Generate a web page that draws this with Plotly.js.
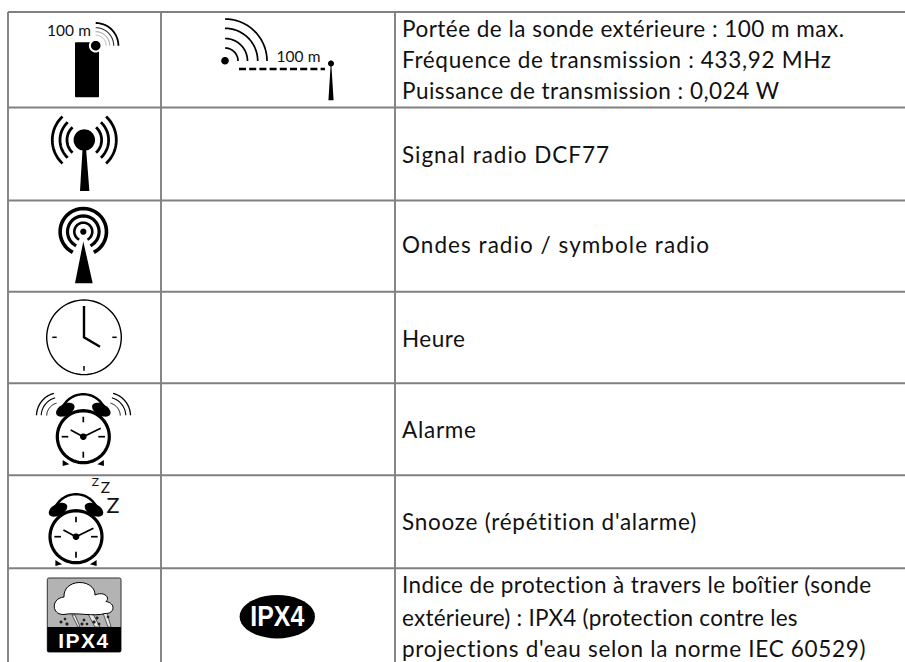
<!DOCTYPE html>
<html><head><meta charset="utf-8">
<script src="https://cdn.plot.ly/plotly-3.0.1.min.js"></script>
<style>html,body{margin:0;padding:0;background:#fff}#c{width:905px;height:662px}</style>
</head><body><div id="c"></div>
<script>
// table structure
const colLines = [8, 161, 395];
const rowLines = [12, 107.5, 200.5, 291.7, 383.3, 475.2, 568.3];
// description text
const descLines = [
  "Portée de la sonde extérieure : 100 m max.",
  "Fréquence de transmission : 433,92 MHz",
  "Puissance de transmission : 0,024 W",
  "Signal radio DCF77",
  "Ondes radio / symbole radio",
  "Heure",
  "Alarme",
  "Snooze (répétition d'alarme)",
  "Indice de protection à travers le boîtier (sonde",
  "extérieure) : IPX4 (protection contre les",
  "projections d'eau selon la norme IEC 60529)"
];
const descBase = [37, 68.3, 99.3, 163.3, 253.3, 346.7, 438.3, 530, 593.3, 626, 656.7];
const descWidth = [442, 429, 377, 207, 307, 63, 74, 295, 470, 396, 464];
const descX = 402;
const baseShift = 5.7;

const K = "#000000", G = "#808080";
const shapes = [];
function P(path, opt) {
  opt = opt || {};
  shapes.push({type:"path", xref:"x", yref:"y", layer:"below", path,
    line:{color:opt.color||K, width:opt.w===undefined?0:opt.w},
    fillcolor:opt.fill||"rgba(0,0,0,0)"});
}
function arcPts(cx,cy,r,a0,a1,n){n=n||36;const o=[];for(let i=0;i<=n;i++){const a=(a0+(a1-a0)*i/n)*Math.PI/180;o.push([cx+r*Math.cos(a),cy+r*Math.sin(a)]);}return o;}
function poly(pts,close){return pts.map((p,i)=>(i?"L":"M")+p[0].toFixed(2)+" "+p[1].toFixed(2)).join(" ")+(close?" Z":"");}
function arc(cx,cy,r,a0,a1,w,color){P(poly(arcPts(cx,cy,r,a0,a1)),{w,color});}
function disc(cx,cy,r,fill){P(poly(arcPts(cx,cy,r,0,360,48),true),{fill:fill||K});}
function ring(cx,cy,r,w,color){P(poly(arcPts(cx,cy,r,0,360,72),true),{w,color:color||K});}
function seg(x0,y0,x1,y1,w){P(`M${x0} ${y0} L${x1} ${y1}`,{w});}
function ell(cx,cy,rx,ry,rot,fill){const t=rot*Math.PI/180,o=[];for(let i=0;i<40;i++){const a=i/40*2*Math.PI,x=rx*Math.cos(a),y=ry*Math.sin(a);o.push([cx+x*Math.cos(t)-y*Math.sin(t),cy+x*Math.sin(t)+y*Math.cos(t)]);}P(poly(o,true),{fill:fill||K});}

// grid
colLines.forEach(x=>shapes.push({type:"line",layer:"below",xref:"x",yref:"y",x0:x,x1:x,y0:rowLines[0],y1:662,line:{color:G,width:1.9}}));
rowLines.forEach(y=>shapes.push({type:"line",layer:"below",xref:"x",yref:"y",x0:colLines[0],x1:905,y0:y,y1:y,line:{color:G,width:1.9}}));

// icon 1: phone sensor
P("M76 42.3 L98 42.3 Q99 42.3 99 43.3 L99 96.3 Q99 97.3 98 97.3 L76 97.3 Q75 97.3 75 96.3 L75 43.3 Q75 42.3 76 42.3 Z",{fill:K});
disc(95.7,45.7,6.8,"#ffffff");
disc(95.7,45.7,4.8);
arc(95.7,45.7,22.7,-90,0,1.8);
arc(95.7,45.7,18,-90,0,1.1,"#333333");
arc(95.7,45.7,14,-90,0,0.8,"#777777");
arc(95.7,45.7,10.5,-90,0,0.7,"#999999");

// icon 2: range
disc(225,60.7,3.8);
[13,22.5,32.7,42].forEach(r=>arc(225,61,r,-90,0,1.7));
P("M239 69 L325 69",{w:2.3});
shapes[shapes.length-1].line.dash="7px,3.2px";
disc(331,63.5,3);
P("M330.6 65 L331.4 65 L333.6 100.3 L328.4 100.3 Z",{fill:K});

// icon 3: antenna DCF77
disc(84.3,140,10.7);
P("M82.6 148 L86 148 L89.4 191 L80 191 Z",{fill:K});
[17.3,24.3,32].forEach(r=>{arc(84.3,140,r,-47,47,2.8);arc(84.3,140,r,133,227,2.8);});

// icon 4: radio
disc(83.3,231.7,3.1);
[[9,2.6],[15.8,3.2],[23.2,3.6]].forEach(([r,w])=>arc(83.3,231.7,r,117,423,w));
P("M83.3 241.5 L92.7 283.3 L75 283.3 Z",{fill:K});

// icon 5: clock
ring(84,337.3,37.3,1.4);
P("M84 306 L84 337.3 L100 346.7",{w:2.4});
seg(112.3,337.3,116.7,337.3,1.5);seg(52.3,337.3,56.7,337.3,1.5);seg(84,366,84,370.7,1.5);

// icons 6/7: alarm clock
function alarm(cx,cy){
  ring(cx,cy,26,3.2);
  seg(cx,cy-20,cx,cy-14.4,1.7);seg(cx,cy+15,cx,cy+21,1.7);
  seg(cx+15,cy,cx+21.7,cy,1.7);seg(cx-21.6,cy,cx-15,cy,1.7);
  P(`M${cx-12.6} ${cy-6.7} L${cx} ${cy} L${cx+17.4} ${cy-8.4}`,{w:1.7});
  disc(cx,cy,3.3);
  arc(cx,cy-19.5,23,-152,-28,2.4);
  ell(cx-18,cy-27,10,5.8,-28);
  ell(cx+18,cy-27,10,5.8,28);
  P(`M${cx-20.6} ${cy+23.3} L${cx-20.6} ${cy+29.3} L${cx-14} ${cy+27.6} Z`,{fill:K});
  P(`M${cx+20.6} ${cy+23.3} L${cx+20.6} ${cy+29.3} L${cx+14} ${cy+27.6} Z`,{fill:K});
}
alarm(83.3,436.7);
[[23.5,1.3],[18.8,1.1],[13.3,1]].forEach(([r,w])=>{arc(60,416,r,182,255,w);arc(107,416,r,-75,-2,w);});
alarm(76,536.7);

// icon 8: IPX4 cloud
P("M49 578 L119.5 578 Q121 578 121 579.5 L121 650.5 Q121 652 119.5 652 L49 652 Q47.3 652 47.3 650.5 L47.3 579.5 Q47.3 578 49 578 Z",{fill:"#b3b3b3",w:1,color:"#333333"});
P("M47.3 627 L121 627 L121 650.5 Q121 652 119.5 652 L49 652 Q47.3 652 47.3 650.5 Z",{fill:K});
// rain
[[72,615,78,627,80,627,75,615],[88,614,95,627,100,627,93,614],[103,613,108,627,111,627,107,613]].forEach(q=>P(`M${q[0]} ${q[1]} L${q[2]} ${q[3]} L${q[4]} ${q[5]} L${q[6]} ${q[7]} Z`,{fill:"#e6e6e6",w:0.7,color:"#222222"}));
[[61,622,1.5],[65,619,1.3],[67,624,1.6],[84,620,1.4],[82,624,1.5],[87,624,1.3],[97,618,1.5],[94,622,1.6],[99,624,1.4],[108,617,1.3]].forEach(d=>disc(d[0],d[1],d[2],"#222222"));
P("M64 614.5 C51 615 51 598 64 597 C63 578 95 578 95 595 C103 591 111 597 106 601.5 C116 603 115 614 105 613.5 C95 617 75 612 64 614.5 Z",{fill:"#ffffff",w:1,color:K});

// oval
ell(277.3,616.7,37.7,21.7,0);

// text marks
const small100 = ["100 m","100 m"], small100X = [69,298.5], small100Y = [32,58.5];
const zText = ["Z","Z","Z"], zX = [95.3,105.5,113], zY = [483,489.5,507.5], zSize = [12,15.5,21.5];
const ipxText = ["IPX4","IPX4"], ipxX = [84,277.3], ipxY = [642.5,618.5], ipxSize = [21,30];

const base = {type:"scatter",mode:"text",hoverinfo:"skip",showlegend:false,cliponaxis:false};
const data = [
 Object.assign({},base,{x:descLines.map(()=>descX),y:descBase.map(b=>b-baseShift),text:descLines,textposition:"middle right",textfont:{family:"Lato",size:22.5,color:"#111111"}}),
 Object.assign({},base,{x:small100X,y:small100Y,text:small100,textposition:"middle center",textfont:{family:"Lato",size:15.5,color:"#111111"}}),
 Object.assign({},base,{x:zX,y:zY,text:zText,textposition:"middle center",textfont:{family:"Lato",size:zSize,color:"#111111"}}),
 Object.assign({},base,{x:[ipxX[0]],y:[ipxY[0]],text:[ipxText[0]],textposition:"middle center",textfont:{family:"Liberation Sans",size:ipxSize[0],color:"#ffffff",weight:700}}),
 Object.assign({},base,{x:[ipxX[1]],y:[ipxY[1]],text:[ipxText[1]],textposition:"middle center",textfont:{family:"Liberation Sans",size:ipxSize[1],color:"#ffffff",weight:700}})
];
const layout = {width:905,height:662,margin:{l:0,r:0,t:0,b:0},paper_bgcolor:"#ffffff",plot_bgcolor:"#ffffff",showlegend:false,
  xaxis:{range:[0,905],visible:false,fixedrange:true},
  yaxis:{range:[662,0],visible:false,fixedrange:true},
  shapes};
function spread(el,target){
  const n=el.textContent.length, len=el.getComputedTextLength();
  el.style.letterSpacing=((target-len)/(n-1)).toFixed(3)+"px";
}
Plotly.newPlot("c",data,layout,{displayModeBar:false,staticPlot:true}).then(()=>{
  const groups=document.querySelectorAll(".scatterlayer .trace");
  groups[0].querySelectorAll(".textpoint text").forEach((el,i)=>spread(el,descWidth[i]));
  groups[1].querySelectorAll(".textpoint text").forEach(el=>spread(el,44));
  groups[3].querySelectorAll(".textpoint text").forEach(el=>spread(el,50));
  const big=groups[4].querySelector(".textpoint text");
  const cx=ipxX[1];
  big.setAttribute("transform",`translate(${cx} 0) scale(0.83 1) translate(${-cx} 0)`);
});
</script></body></html>
